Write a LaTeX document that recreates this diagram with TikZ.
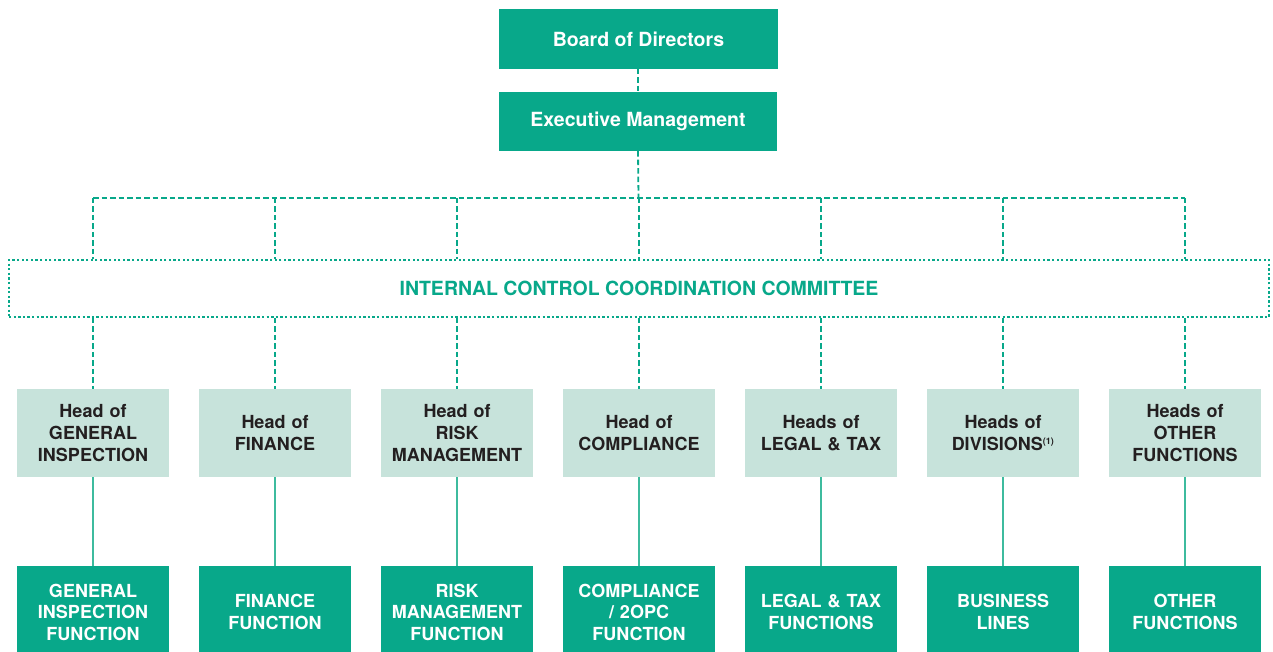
\documentclass[tikz,border=0pt]{standalone}
\usepackage{fontspec}
\setmainfont{TeX Gyre Heros}
\definecolor{teal1}{HTML}{08A88A}
\definecolor{lightteal}{HTML}{C7E3DB}
\definecolor{linet}{HTML}{3DBB9E}
\definecolor{darktext}{HTML}{231F20}
\begin{document}
\begin{tikzpicture}[x=1pt,y=1pt,
  topbox/.style={fill=teal1,text=white,minimum width=279pt,minimum height=60pt,inner sep=0pt,font=\fontsize{19.5}{23}\selectfont\bfseries},
  headbox/.style={fill=lightteal,text=darktext,minimum width=152pt,minimum height=88pt,text width=150pt,align=center,inner sep=0pt,font=\fontsize{18}{22}\selectfont\bfseries},
  funcbox/.style={fill=teal1,text=white,minimum width=152pt,minimum height=92pt,text width=150pt,align=center,inner sep=0pt,font=\fontsize{18}{21.5}\selectfont\bfseries},
  dashline/.style={draw=teal1,line width=1.8pt,dash pattern=on 5.5pt off 3pt},
  dotline/.style={draw=teal1,line width=1.8pt,dash pattern=on 2.3pt off 2.3pt},
  solidline/.style={draw=linet,line width=1.5pt}]
\useasboundingbox (0,0) rectangle (1273,652);

\node[topbox] (board) at (638.5,613) {Board of Directors};
\node[topbox,minimum width=278pt,minimum height=59pt] (exec) at (638,530.5) {Executive Management};

\node[dotline,minimum width=1260pt,minimum height=57pt,inner sep=0pt,text=teal1,font=\fontsize{19.5}{23}\selectfont\bfseries] (icc) at (639,363.5) {INTERNAL CONTROL COORDINATION COMMITTEE};

\node[headbox] (h1) at (93,219) {Head of\\GENERAL\\INSPECTION};
\node[headbox] (h2) at (275,219) {Head of\\FINANCE};
\node[headbox] (h3) at (457,219) {Head of\\RISK\\MANAGEMENT};
\node[headbox] (h4) at (639,219) {Head of\\COMPLIANCE};
\node[headbox] (h5) at (821,219) {Heads of\\LEGAL \& TAX};
\node[headbox] (h6) at (1003,219) {Heads of\\DIVISIONS\textsuperscript{\fontsize{9}{9}\selectfont(1)}};
\node[headbox] (h7) at (1185,219) {Heads of\\OTHER\\FUNCTIONS};

\node[funcbox] (f1) at (93,40) {GENERAL\\INSPECTION\\FUNCTION};
\node[funcbox] (f2) at (275,40) {FINANCE\\FUNCTION};
\node[funcbox] (f3) at (457,40) {RISK\\MANAGEMENT\\FUNCTION};
\node[funcbox] (f4) at (639,40) {COMPLIANCE\\/ 2OPC\\FUNCTION};
\node[funcbox] (f5) at (821,40) {LEGAL \& TAX\\FUNCTIONS};
\node[funcbox] (f6) at (1003,40) {BUSINESS\\LINES};
\node[funcbox] (f7) at (1185,40) {OTHER\\FUNCTIONS};

\coordinate (hl) at (638.5,454);

\draw[dashline] (board.south) -- (exec.south |- board.south) -- (exec.north);
\draw[dashline] (exec.south) -- (hl);
\draw[dashline] (h1 |- hl) -- (h7 |- hl);
\foreach \i in {1,...,7}{
  \draw[dashline] (h\i |- hl) -- (h\i |- icc.north);
  \draw[dashline] (icc.south -| h\i) -- (h\i.north);
  \draw[solidline] (h\i.south) -- (f\i.north);
}
\end{tikzpicture}
\end{document}
